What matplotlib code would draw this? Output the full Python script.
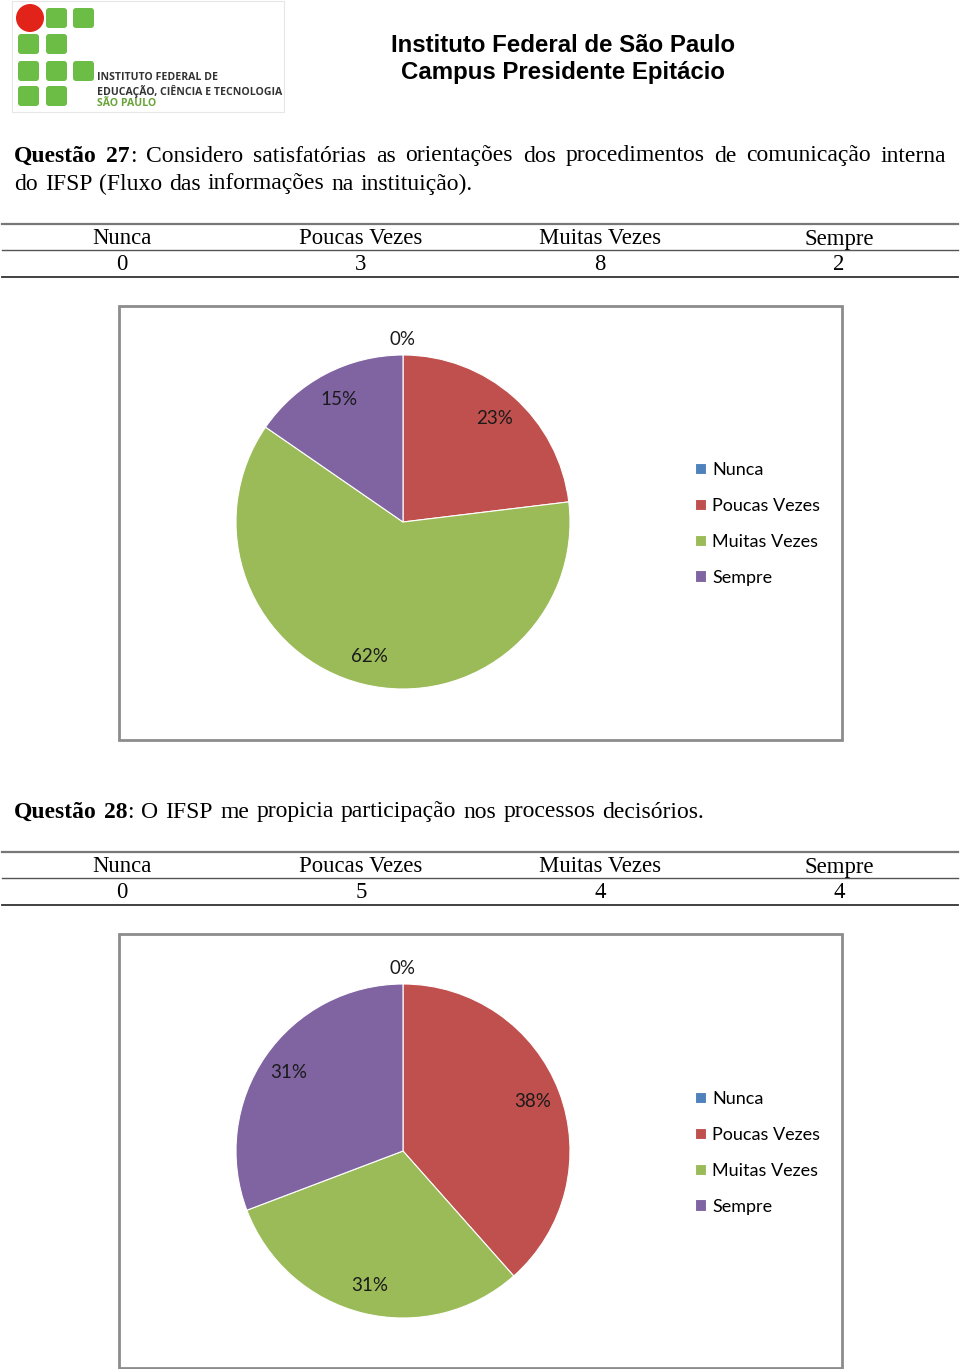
import matplotlib
matplotlib.use("Agg")
import matplotlib.pyplot as plt
from matplotlib.patches import Rectangle, FancyBboxPatch, Circle
import numpy as np

# ----------------------------------------------------------------
# Data
# ----------------------------------------------------------------
categories = ["Nunca", "Poucas Vezes", "Muitas Vezes", "Sempre"]
q27_counts = [0, 3, 8, 2]
q28_counts = [0, 5, 4, 4]
q27_pct = ["0%", "23%", "62%", "15%"]
q28_pct = ["0%", "38%", "31%", "31%"]

header_lines = ["Instituto Federal de São Paulo", "Campus Presidente Epitácio"]
q27_text = [
    "Considero satisfatórias as orientações dos procedimentos de comunicação interna",
    "do IFSP (Fluxo das informações na instituição).",
]
q28_text = "O IFSP me propicia participação nos processos decisórios."

COLORS = ["#4F81BD", "#C0504D", "#9BBB59", "#8064A2"]
LOGO_GREEN = "#6cbd45"
LOGO_RED = "#e2231a"
SERIF = "Liberation Serif"
SANS = "Liberation Sans"
CHART_FONT = "Lato"

W, H = 960, 1369
fig = plt.figure(figsize=(W / 100, H / 100), dpi=100, facecolor="white")
page = fig.add_axes([0, 0, 1, 1])
page.set_xlim(0, W)
page.set_ylim(H, 0)
page.axis("off")

# ----------------------------------------------------------------
# Logo
# ----------------------------------------------------------------
page.add_patch(Rectangle((12, 1), 272, 111, fill=False, edgecolor="#e6e6e6", lw=0.8))
cols_x = [17, 45, 72]
rows_y = [7, 33, 60, 85]
grid = [[None, 1, 1], [1, 1, 0], [1, 1, 1], [1, 1, 0]]
for r, row in enumerate(grid):
    for c, v in enumerate(row):
        if v:
            page.add_patch(FancyBboxPatch((cols_x[c] + 1, rows_y[r] + 1), 21, 20,
                                          boxstyle="round,pad=0,rounding_size=3",
                                          facecolor=LOGO_GREEN, edgecolor="none"))
page.add_patch(Circle((30, 18), 14, facecolor=LOGO_RED, edgecolor="none"))
logo_lines = [("INSTITUTO FEDERAL DE", "#333333"),
              ("EDUCAÇÃO, CIÊNCIA E TECNOLOGIA", "#333333"),
              ("SÃO PAULO", "#6aa33a")]
for i, (t, c) in enumerate(logo_lines):
    page.text(97, 78 + 13 * i, t, fontsize=7.6, fontweight="bold",
              family="Open Sans", color=c, va="center")

# ----------------------------------------------------------------
# Header
# ----------------------------------------------------------------
for i, line in enumerate(header_lines):
    page.text(563, 45 + 28 * i, line, fontsize=17.3, fontweight="bold",
              family=SANS, ha="center", va="center", color="black")

renderer = fig.canvas.get_renderer()
BODY_FS = 17.0
TABLE_FS = 16.4


def make_tokens(words, bold_prefix=None):
    toks = []
    if bold_prefix:
        toks += [(w, "bold", False) for w in bold_prefix.split()]
        toks.append((":", "normal", True))
    toks += [(w, "normal", False) for w in words.split()]
    return toks


def place_line(tokens, x0, x1, y):
    # spread the words so the line runs from x0 to x1 (as in the source page)
    arts = [page.text(0, y, t, fontsize=BODY_FS, fontweight=w, family=SERIF,
                      va="center", ha="left") for t, w, _ in tokens]
    widths = [a.get_window_extent(renderer).width for a in arts]
    gaps = sum(1 for _, _, att in tokens[1:] if not att)
    space = (x1 - x0 - sum(widths)) / max(gaps, 1)
    x = x0
    for i, (art, tok) in enumerate(zip(arts, tokens)):
        if i > 0 and not tok[2]:
            x += space
        art.set_x(x)
        x += widths[i]


place_line(make_tokens(q27_text[0], "Questão 27"), 14, 946, 156)
place_line(make_tokens(q27_text[1]), 14, 473, 184)
place_line(make_tokens(q28_text, "Questão 28"), 14, 704, 812)

# ----------------------------------------------------------------
# Tables
# ----------------------------------------------------------------
col_centers = [122, 361, 600, 839]


def draw_table(y_top, counts):
    page.plot([2, 958], [y_top, y_top], color="#777777", lw=1.6)
    page.plot([2, 958], [y_top + 26, y_top + 26], color="#555555", lw=1.0)
    page.plot([2, 958], [y_top + 53, y_top + 53], color="#333333", lw=1.3)
    for cx, cat, n in zip(col_centers, categories, counts):
        page.text(cx, y_top + 15, cat, fontsize=TABLE_FS, family=SERIF,
                  ha="center", va="center")
        page.text(cx, y_top + 41, str(n), fontsize=TABLE_FS, family=SERIF,
                  ha="center", va="center")


draw_table(224, q27_counts)
draw_table(852, q28_counts)

# ----------------------------------------------------------------
# Pie charts
# ----------------------------------------------------------------
def draw_pie(frame_top, cy, counts, pcts):
    page.add_patch(Rectangle((119, frame_top), 723, 434, fill=False,
                             edgecolor="#8c8c8c", lw=2))
    R = 167
    cx = 403
    ax = fig.add_axes([(cx - R) / W, 1 - (cy + R) / H, 2 * R / W, 2 * R / H])
    wedges, _ = ax.pie(counts, colors=COLORS, startangle=90, counterclock=False,
                       wedgeprops=dict(edgecolor="white", linewidth=0.8))
    ax.set_xlim(-1, 1)
    ax.set_ylim(-1, 1)
    for w, p, n in zip(wedges, pcts, counts):
        ang = np.deg2rad((w.theta1 + w.theta2) / 2)
        r = 0.83 if n > 0 else 1.09
        ax.text(r * np.cos(ang), r * np.sin(ang), p, ha="center", va="center",
                fontsize=13.5, family=CHART_FONT, color="#1a1a1a", clip_on=False)
    ax.legend(wedges, categories, loc="upper left",
              bbox_to_anchor=(695 / W, 1 - (cy - 60) / H),
              bbox_transform=fig.transFigure, frameon=False,
              prop=dict(family=CHART_FONT, size=13),
              handlelength=0.6, handleheight=0.6, handletextpad=0.35,
              labelspacing=1.1, borderaxespad=0, borderpad=0)


draw_pie(306, 522, q27_counts, q27_pct)
draw_pie(934, 1151, q28_counts, q28_pct)

fig.savefig("out.png", dpi=100, facecolor="white")
